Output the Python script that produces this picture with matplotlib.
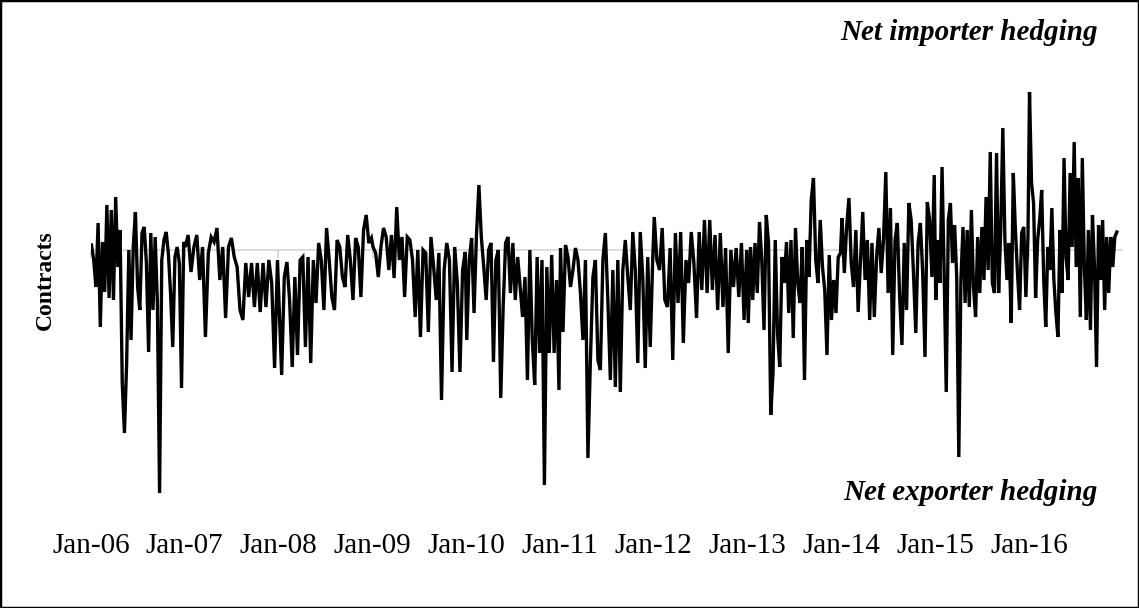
import numpy as np
import pandas as pd
import matplotlib
matplotlib.use("Agg")
import matplotlib.pyplot as plt
from matplotlib.patches import Rectangle

# net hedging position (contracts, unscaled)
hedge_2006 = [5, -10, -37, 27, -77, 8, -42, 45, -48, 40, -50, 53, -17, 20, -133, -183, -113, 0, -90, 3, 38,
              -37, -60, 17, 23, -13, -102, 17, -60, 13, -53, -243, -10, 10, 18, -3, -43, -97, -7, 3, -13, -138, 8]
hedge_2007 = [3, 15, -22, 3, 15, -30, 3, -87, -3, 13, 8, 22, -30, 3, -68, 3, 12, -7, -17, -60, -70, -13, -47,
              -13, -57, -13, -62, -13, -57, -10, -33, -118, -10]
hedge_2008 = [-53, -125, -27, -12, -50, -117, -27, -105, -10, -7, -97, -7, -113, -10, -53, 7, -10, -60, 22, -10,
              -47, -60, 10, 3, -27, -37, 15, -10, -50, 12, 3, -47, 20, 35, 7, 12]
hedge_2009 = [3, -3, -27, 3, 22, 13, -20, 15, -28, 43, -10, 13, -47, 13, 10, -10, -67, 0, -87, 0, -3, -82, 13,
              -17, -50, -3, -150, -20, 7, -10, -122, 3, -33, -122, -20, -2]
hedge_2010 = [-90, -10, 12, -63, 15, 65, 13, -17, -50, 0, 7, -112, -10, 0, -148, -57, 7, 13, -43, 7, -50, -7,
              -37, -67, -27, -130, 0, -90, -135, -7, -103, -10, -235, -17, -103, -5, -103, -30, -140]
hedge_2011 = [2, -82, 5, -7, -37, -20, 2, -10, -43, -90, -10, -208, -110, -27, -10, -110, -120, -10, 17, -50,
              -130, -20, -137, -10, -142, -20, 10, -27, -60, 18, -20, -113, 18, -27, -118, -7, -97, -10]
hedge_2012 = [33, -10, -20, 22, -50, -57, 2, -110, 17, -53, 18, -93, -10, -33, 18, -13, -68, 18, -40, 30, -43,
              30, -40, 15, -60, 17, -57, 2, -103, 0, -37, 2, -47, 7, -70, 0]
hedge_2013 = [-73, 3, -50, 7, -43, 28, -10, -80, 35, 7, -165, -123, 10, -83, -117, -7, -33, 8, -63, 10, -88, 22,
              -33, -53, 3, -130, 10, -27, 50, 72, -10, -33, 30, -17, -40, -105, -5, -70, -30, -63, -7, -3]
hedge_2014 = [32, -23, 23, 52, -13, -37, 20, -62, -13, 38, -30, 10, -70, 7, -67, -7, 22, -23, 10, 78, -43, 42,
              -105, 10, 27, -47, -95, 7, -60, 47, 30, -23, -83, 7, 27, -23, -107, 48, 30, -27, 75]
hedge_2015 = [-50, 10, -33, 83, -23, -142, 30, 47, -13, 25, -27, -207, -30, 23, -53, 20, -57, 40, -37, -67, 13,
              -43, 23, -30, 53, -20, 98, -33, -43, 97, -43, 20, 122, 10, -30, 7, -73, 77, 20, -23, -60, 17, 23,
              -47, 13]
hedge_2016 = [158, 67, 47, -48, 10, 30, 60, -30, -77, 3, -20, 42, -30, -63, -87, 20, -43, 92, -7, -30, 77, 3,
              108, -17, 72, -67, 92, -17, -70, 20, -80, 35, -17, -117, 25, -30, 30, -60, 13, -43, 13, -17, 13, 18]

years = list(range(2006, 2017))
tick_labels = ["Jan-06", "Jan-07", "Jan-08", "Jan-09", "Jan-10", "Jan-11",
               "Jan-12", "Jan-13", "Jan-14", "Jan-15", "Jan-16"]
yearly = [hedge_2006, hedge_2007, hedge_2008, hedge_2009, hedge_2010, hedge_2011,
          hedge_2012, hedge_2013, hedge_2014, hedge_2015, hedge_2016]

# spread each year's readings over that year
dates, values = [], []
for yr, vals in zip(years, yearly):
    end = "2016-12-08" if yr == 2016 else f"{yr}-12-28"
    dates.extend(pd.date_range(f"{yr}-01-03", end, periods=len(vals)))
    values.extend(vals)

plt.rcParams["font.family"] = ["Liberation Serif", "DejaVu Serif"]

fig = plt.figure(figsize=(11.39, 6.08), dpi=100)
ax = fig.add_axes([91 / 1139, 78 / 608, 1032 / 1139, 445 / 608])

# zero line (Excel-style horizontal axis crossing at zero)
ax.axhline(0, color="#d9d9d9", lw=1.3, zorder=0)
ax.plot(dates, values, color="black", lw=2.4, solid_joinstyle="miter", zorder=2)

ax.set_xlim(pd.Timestamp("2006-01-01"), pd.Timestamp("2017-01-01"))
ax.set_ylim(-280, 165)

tick_dates = [pd.Timestamp(f"{y}-01-01") for y in years]
ax.set_xticks(tick_dates)
ax.set_xticklabels(tick_labels)
ax.tick_params(axis="x", length=0, pad=2, labelsize=21)
ax.set_yticks([])
for s in ax.spines.values():
    s.set_visible(False)

# small year ticks hanging from the zero line
sec = ax.secondary_xaxis(280 / 445)
sec.set_xticks(tick_dates)
sec.xaxis.set_ticks_position("bottom")
sec.tick_params(axis="x", direction="out", length=6, width=1.2, color="#d0d0d0",
                labelbottom=False, labeltop=False)
for s in sec.spines.values():
    s.set_visible(False)

fig.text(45 / 1139, 1 - 280 / 608, "Contracts", rotation=90, ha="center", va="center",
         fontsize=17, fontweight="bold")
fig.text(1098 / 1139, 1 - 32 / 608, "Net importer hedging", ha="right", va="center",
         fontsize=21, fontweight="bold", fontstyle="italic")
fig.text(1098 / 1139, 1 - 492 / 608, "Net exporter hedging", ha="right", va="center",
         fontsize=21, fontweight="bold", fontstyle="italic")

fig.patches.append(Rectangle((0, 0), 1, 1, transform=fig.transFigure, fill=False,
                             edgecolor="black", lw=2.5))

fig.savefig("out.png", dpi=100)
